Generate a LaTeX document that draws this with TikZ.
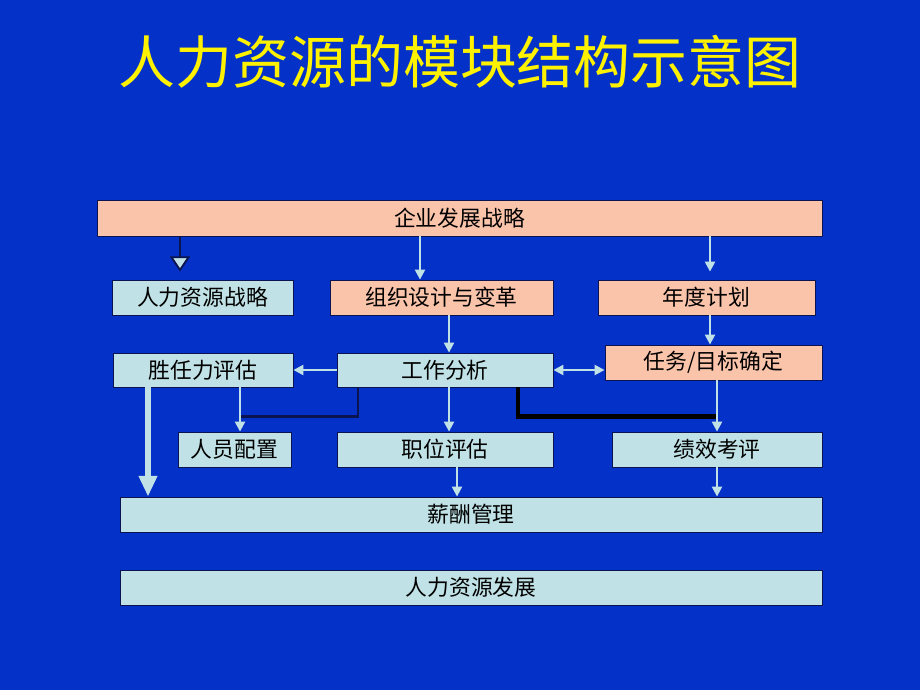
\documentclass[tikz,border=0pt]{standalone}
\usepackage{fontspec}
\newfontfamily\cjk{Noto Sans CJK SC}
\usetikzlibrary{arrows.meta}
\definecolor{bgblue}{RGB}{4,50,200}
\definecolor{salmon}{RGB}{250,196,170}
\definecolor{lightb}{RGB}{192,226,230}
\definecolor{navy}{RGB}{10,20,80}
\tikzset{
  box/.style={draw=navy, line width=0.6pt, inner sep=0pt, minimum height=35*\pxu,
    text=black, font=\cjk\fontsize{15.5}{16}\selectfont},
  pinkbox/.style={box, fill=salmon},
  bluebox/.style={box, fill=lightb},
  arr/.style={draw=lightb, line width=1.6pt, -{Triangle[length=7pt,width=7pt]}},
  fatarr/.style={draw=lightb, line width=3.8pt, -{Triangle[length=0.52cm,width=0.44cm]}},
  darkline/.style={draw=navy, line width=1.8pt},
}
\begin{document}
\begin{tikzpicture}[x=0.025cm, y=-0.025cm]
        \def\pxu{0.025cm}% one pixel of the slide
        % the slide
        \fill[bgblue] (0,0) rectangle (920,690);
        \useasboundingbox (0,0) rectangle (920,690);
        \node[text=yellow, font=\cjk\fontsize{40.5}{42}\selectfont] (title) at (460,62) {人力资源的模块结构示意图};
        % the boxes
        \node[pinkbox, minimum width=725*\pxu, minimum height=36*\pxu] (top) at (459.5,218) {企业发展战略};
        \node[bluebox, minimum width=181*\pxu] (hrs) at (202.5,297.5) {人力资源战略};
        \node[pinkbox, minimum width=223*\pxu] (org) at (441.5,297.5) {组织设计与变革};
        \node[pinkbox, minimum width=217*\pxu] (plan) at (706.5,297.5) {年度计划};
        \node[bluebox, minimum width=180*\pxu, minimum height=34*\pxu] (comp) at (203,370) {胜任力评估};
        \node[bluebox, minimum width=216*\pxu, minimum height=34*\pxu] (job) at (445,370) {工作分析};
        \node[pinkbox, minimum width=217*\pxu] (task) at (713.5,362.5) {任务/目标确定};
        \node[bluebox, minimum width=113*\pxu] (staff) at (234.5,449.5) {人员配置};
        \node[bluebox, minimum width=216*\pxu] (pos) at (445,449.5) {职位评估};
        \node[bluebox, minimum width=210*\pxu] (perf) at (717,449.5) {绩效考评};
        \node[bluebox, minimum width=702*\pxu] (pay) at (471,514.5) {薪酬管理};
        \node[bluebox, minimum width=702*\pxu] (dev) at (471,587.5) {人力资源发展};
        % arrows from the top
        \draw[navy, line width=1.3pt, -{Triangle[length=0.38cm,width=0.5cm,fill=lightb]}]
            ([xshift=-22.5*\pxu]hrs.north |- top.south) -- ([xshift=-22.5*\pxu, yshift=8*\pxu]hrs.north);
        \draw[arr] ([xshift=-21.5*\pxu]org.north |- top.south) -- ([xshift=-21.5*\pxu]org.north);
        \draw[arr] ([xshift=3.5*\pxu]plan.north |- top.south) -- ([xshift=3.5*\pxu, yshift=8*\pxu]plan.north);
        \draw[arr] ([xshift=3.5*\pxu]plan.south) -- ([xshift=3.5*\pxu]plan.south |- task.north);
        \draw[arr] ([xshift=7.5*\pxu]org.south) -- ([xshift=7.5*\pxu]org.south |- job.north);
        % the middle row
        \draw[arr] (job.west) -- (comp.east);
        \draw[arr, {Triangle[length=7pt,width=7pt]}-{Triangle[length=7pt,width=7pt]}] (job.east) -- (job.east -| task.west);
        % the dark links
        \draw[darkline] ([xshift=-87*\pxu]job.south) |- ([xshift=5.5*\pxu, yshift=15*\pxu]staff.north);
        \draw[draw=black, line width=3pt] ([xshift=73*\pxu]job.south) |- ([yshift=15*\pxu]perf.north);
        % down to the third row
        \draw[arr] ([xshift=5.5*\pxu]staff.north |- comp.south) -- ([xshift=5.5*\pxu]staff.north);
        \draw[arr] ([xshift=4*\pxu]job.south) -- ([xshift=4*\pxu]pos.north);
        \draw[arr] (perf.north |- task.south) -- (perf.north);
        % down to pay
        \draw[fatarr] ([xshift=-55*\pxu]comp.south) -- ([xshift=-55*\pxu]comp.south |- pay.north);
        \draw[arr] ([xshift=12*\pxu]pos.south) -- ([xshift=12*\pxu]pos.south |- pay.north);
        \draw[arr] (perf.south) -- (perf.south |- pay.north);
\end{tikzpicture}
\end{document}
